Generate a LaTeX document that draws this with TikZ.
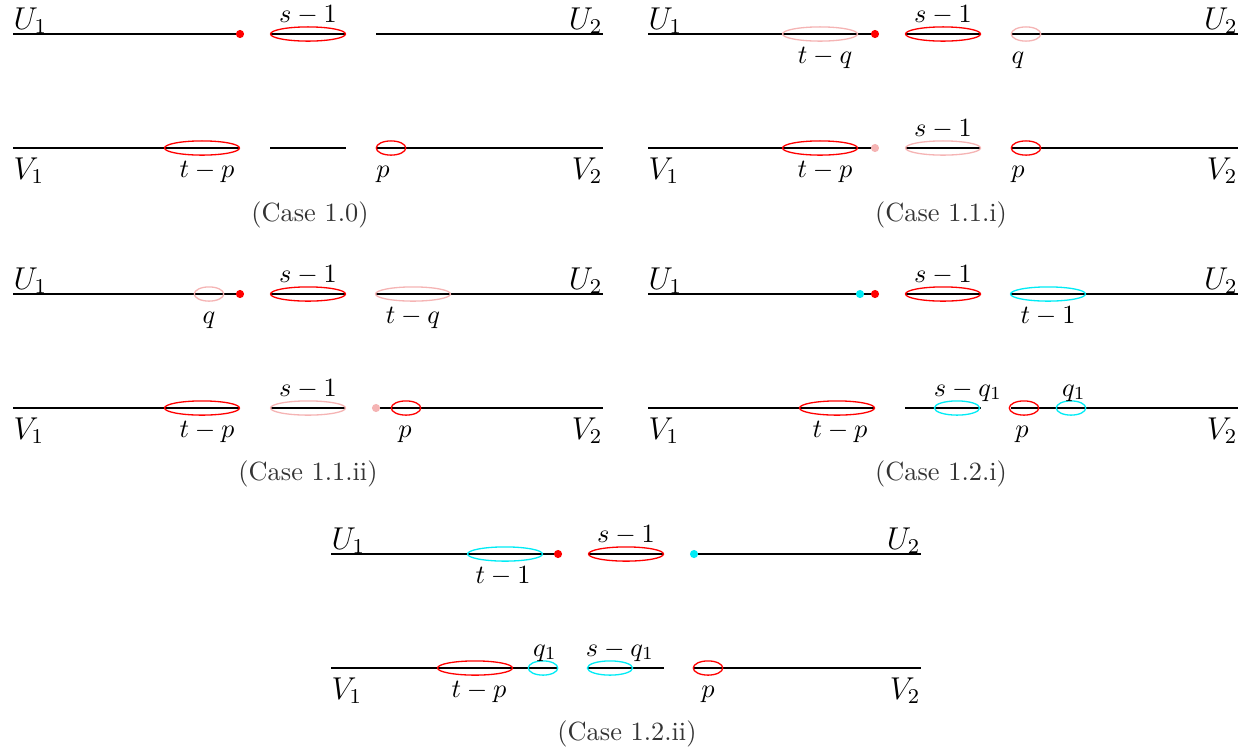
\documentclass[tikz,border=0pt]{standalone}
\usetikzlibrary{shapes.geometric}
\definecolor{pinkc}{RGB}{245,180,180}
\definecolor{cyanc}{RGB}{0,235,245}
\tikzset{
  seg/.style={line width=0.6pt},
  ellbig/.style={ellipse, draw, line width=0.5pt, minimum width=28.5pt, minimum height=5.4pt, inner sep=0pt},
  ellmid/.style={ellipse, draw, line width=0.5pt, minimum width=17.2pt, minimum height=5.4pt, inner sep=0pt},
  ellsmall/.style={ellipse, draw, line width=0.5pt, minimum width=11.2pt, minimum height=5.4pt, inner sep=0pt},
  vdot/.style={circle, fill, inner sep=0pt, minimum size=3.1pt},
  lab/.style={inner sep=0pt, anchor=base},
  side/.style={inner sep=0pt, font=\fontsize{11.5}{13}\selectfont},
  capt/.style={inner sep=0pt, text=black!80},
}
\newcommand\drawbase[1]{%
  \coordinate (#1u0) at (13,34);  \coordinate (#1u1) at (240,34);
  \coordinate (#1u2) at (270,34); \coordinate (#1u3) at (346,34);
  \coordinate (#1u4) at (376,34); \coordinate (#1u5) at (603,34);
  \coordinate (#1v0) at (13,148);  \coordinate (#1v1) at (240,148);
  \coordinate (#1v2) at (270,148); \coordinate (#1v3) at (346,148);
  \coordinate (#1v4) at (376,148); \coordinate (#1v5) at (603,148);
  \draw[seg] (#1u0) -- (#1u1) (#1u2) -- (#1u3) (#1u4) -- (#1u5);
  \draw[seg] (#1v0) -- (#1v1) (#1v2) -- (#1v3) (#1v4) -- (#1v5);
  \node[side, anchor=base west] (#1U1) at (13,29) {$U_1$};
  \node[side, anchor=base east] (#1U2) at (603,29) {$U_2$};
  \node[side, anchor=base west] (#1V1) at (13,179) {$V_1$};
  \node[side, anchor=base east] (#1V2) at (603,179) {$V_2$};
}
\begin{document}
\begin{tikzpicture}[x=0.38pt,y=-0.38pt]
\useasboundingbox (0,0) rectangle (1255,751);

% ---------- Case 1.0
\begin{scope}
\drawbase{A}
\node[vdot, red] (Adot) at (Au1) {};
\node[ellbig, red] (Aes) at (308,34) {};
\node[lab] (Als) at (308,22) {$s-1$};
\node[ellbig, red] (Aetp) at (202,148) {};
\node[lab] (Altp) at (207,177) {$t-p$};
\node[ellsmall, red] (Aep) at (391,148) {};
\node[lab] (Alp) at (383,177) {$p$};
\node[capt] (Acap) at (310,215) {(Case 1.0)};
\end{scope}

% ---------- Case 1.1.i
\begin{scope}[shift={(635,0)}]
\drawbase{B}
\node[ellbig, pinkc] (Betq) at (185,34) {};
\node[lab] (Bltq) at (190,63) {$t-q$};
\node[vdot, red] (Bdot) at (Bu1) {};
\node[ellbig, red] (Bes) at (308,34) {};
\node[lab] (Bls) at (308,22) {$s-1$};
\node[ellsmall, pinkc] (Beq) at (391,34) {};
\node[lab] (Blq) at (383,63) {$q$};
\node[ellbig, red] (Betp) at (185,148) {};
\node[lab] (Bltp) at (190,177) {$t-p$};
\node[vdot, pinkc] (Bpdot) at (Bv1) {};
\node[ellbig, pinkc] (Bes2) at (308,148) {};
\node[lab] (Bls2) at (308,136) {$s-1$};
\node[ellsmall, red] (Bep) at (391,148) {};
\node[lab] (Blp) at (383,177) {$p$};
\node[capt] (Bcap) at (306,215) {(Case 1.1.i)};
\end{scope}

% ---------- Case 1.1.ii
\begin{scope}[shift={(0,260)}]
\drawbase{C}
\node[ellsmall, pinkc] (Ceq) at (209,34) {};
\node[lab] (Clq) at (209,63) {$q$};
\node[vdot, red] (Cdot) at (Cu1) {};
\node[ellbig, red] (Ces) at (308,34) {};
\node[lab] (Cls) at (308,22) {$s-1$};
\node[ellbig, pinkc] (Cetq) at (413,34) {};
\node[lab] (Cltq) at (413,63) {$t-q$};
\node[ellbig, red] (Cetp) at (202,148) {};
\node[lab] (Cltp) at (207,177) {$t-p$};
\node[ellbig, pinkc] (Ces2) at (308,148) {};
\node[lab] (Cls2) at (308,136) {$s-1$};
\node[vdot, pinkc] (Cpdot) at (Cv4) {};
\node[ellsmall, red] (Cep) at (406,148) {};
\node[lab] (Clp) at (405,177) {$p$};
\node[capt] (Ccap) at (308,214) {(Case 1.1.ii)};
\end{scope}

% ---------- Case 1.2.i
\begin{scope}[shift={(635,260)}]
\drawbase{D}
\node[vdot, cyanc] (Dcdot) at (225,34) {};
\node[vdot, red] (Ddot) at (Du1) {};
\node[ellbig, red] (Des) at (308,34) {};
\node[lab] (Dls) at (308,22) {$s-1$};
\node[ellbig, cyanc] (Det1) at (413,34) {};
\node[lab] (Dlt1) at (413,63) {$t-1$};
\node[ellbig, red] (Detp) at (202,148) {};
\node[lab] (Dltp) at (205,177) {$t-p$};
\node[ellmid, cyanc] (Desq) at (322,148) {};
\node[lab] (Dlsq) at (333,136) {$s-q_1$};
\node[ellsmall, red] (Dep) at (389,148) {};
\node[lab] (Dlp) at (387,177) {$p$};
\node[ellsmall, cyanc] (Deq) at (436,148) {};
\node[lab] (Dlq) at (439,136) {$q_1$};
\node[capt] (Dcap) at (306,214) {(Case 1.2.i)};
\end{scope}

% ---------- Case 1.2.ii
\begin{scope}[shift={(318,520)}]
\drawbase{E}
\node[ellbig, cyanc] (Et1) at (187,34) {};
\node[lab] (Elt1) at (185,63) {$t-1$};
\node[vdot, red] (Edot) at (Eu1) {};
\node[ellbig, red] (Ees) at (308,34) {};
\node[lab] (Els) at (308,22) {$s-1$};
\node[vdot, cyanc] (Ecdot) at (Eu4) {};
\node[ellbig, red] (Eetp) at (157,148) {};
\node[lab] (Eltp) at (161,177) {$t-p$};
\node[ellsmall, cyanc] (Eeq) at (225,148) {};
\node[lab] (Elq) at (227,136) {$q_1$};
\node[ellmid, cyanc] (Esq) at (292,148) {};
\node[lab] (Elsq) at (302,136) {$s-q_1$};
\node[ellsmall, red] (Eep) at (390,148) {};
\node[lab] (Elp) at (390,177) {$p$};
\node[capt] (Ecap) at (309,214) {(Case 1.2.ii)};
\end{scope}
\end{tikzpicture}
\end{document}
